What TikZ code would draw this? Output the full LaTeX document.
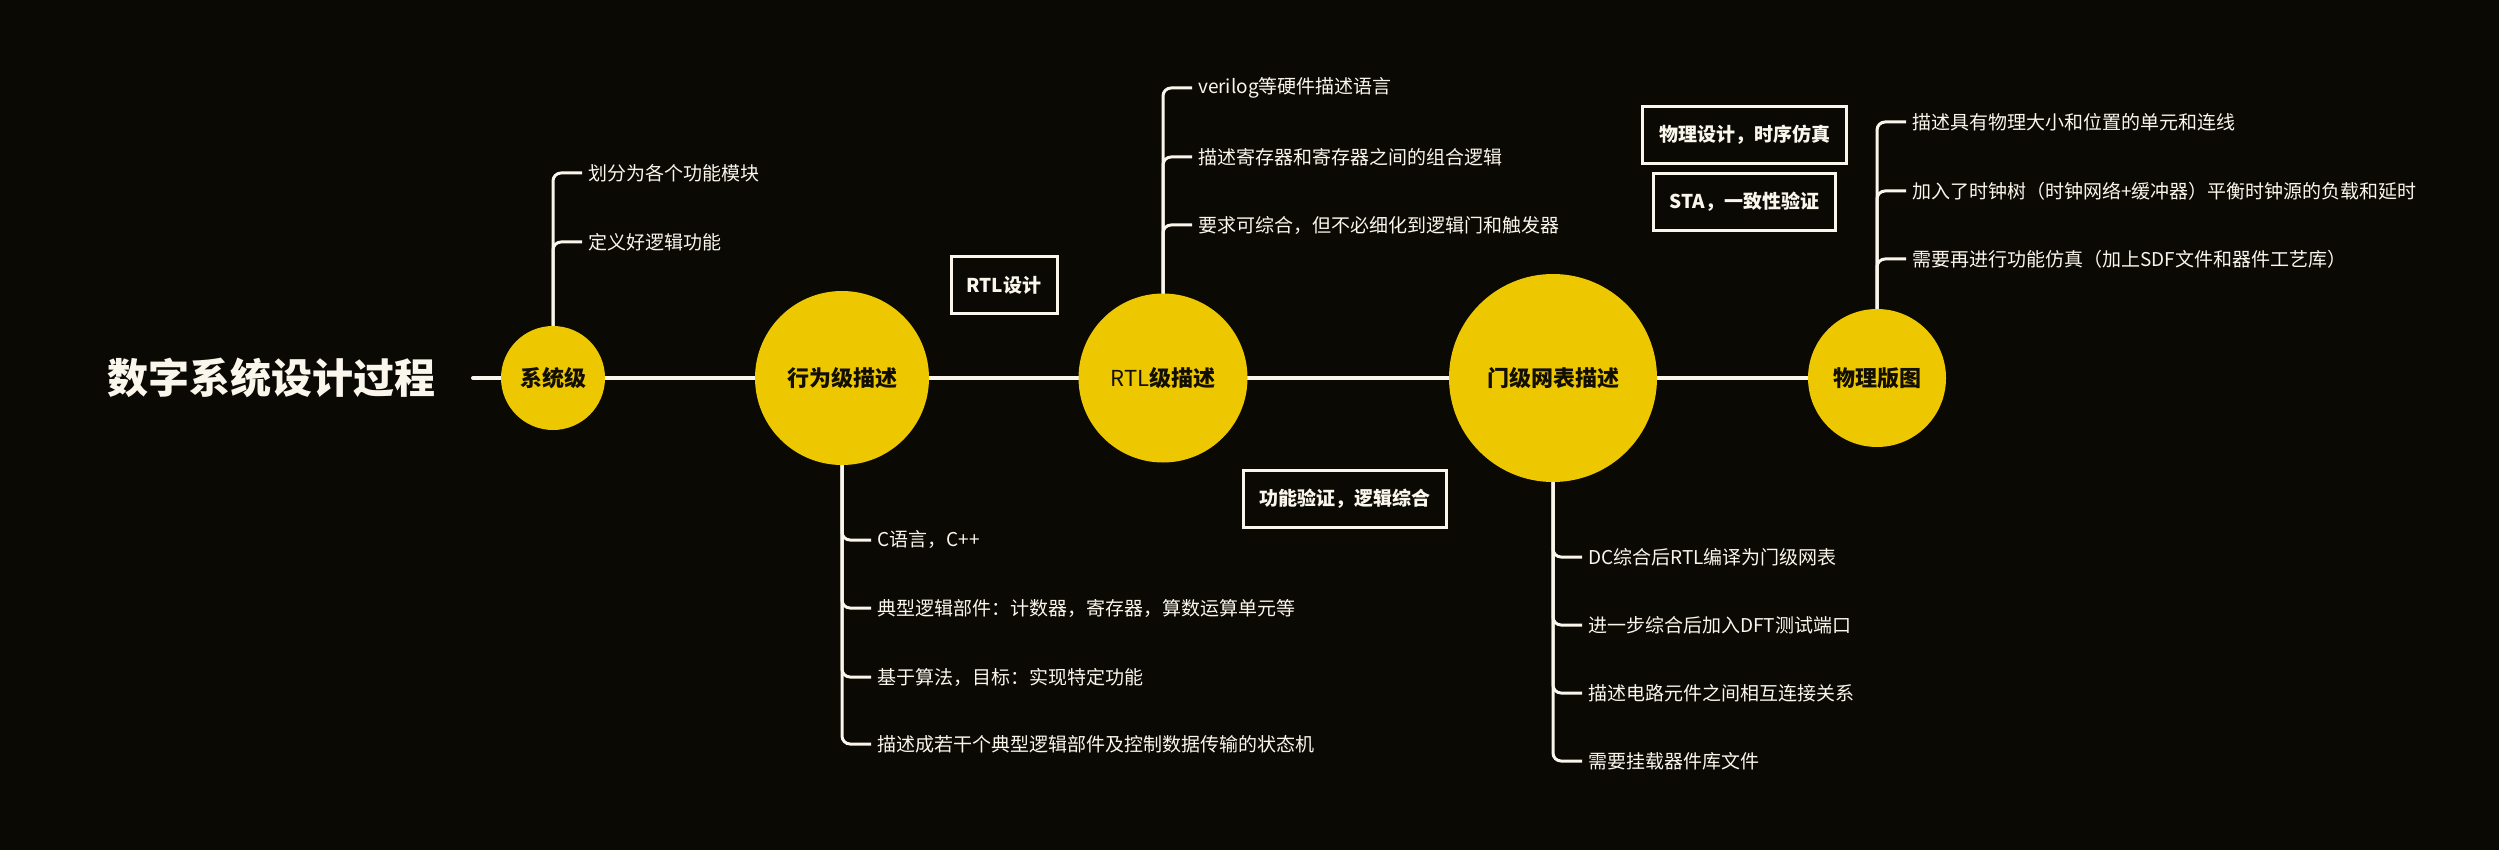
\documentclass[tikz,border=0pt]{standalone}
\usepackage{fontspec}
\setmainfont{Noto Sans CJK SC}
\usetikzlibrary{backgrounds}
\definecolor{bg}{RGB}{11,9,4}
\definecolor{gold}{RGB}{237,200,0}
\definecolor{cream}{RGB}{250,246,236}
\definecolor{ink}{RGB}{18,14,2}
\tikzset{
  circ/.style={circle, fill=gold, inner sep=0pt, text=ink,
    font=\fontsize{22}{22}\selectfont\bfseries},
  item/.style={anchor=west, inner sep=0pt, text=cream,
    font=\fontsize{19}{19}\selectfont},
  lbox/.style={draw=cream, line width=3pt, text=cream, minimum height=57pt,
    inner sep=0pt, font=\fontsize{19}{19}\selectfont\bfseries},
  mainline/.style={draw=cream, line width=4pt, line cap=round},
  branch/.style={draw=cream, line width=3pt, rounded corners=8pt},
  ttl/.style={text=cream, inner sep=0pt, font=\fontsize{41}{41}\selectfont\bfseries}
}
\begin{document}
\begin{tikzpicture}[x=1pt,y=-1pt]
\useasboundingbox (0,0) rectangle (2499,850);
% title
\node[ttl] (title) at (271,378) {数字系统设计过程};
% stage circles
\node[circ, minimum size=104pt] (sys) at (553,378) {系统级};
\node[circ, minimum size=174pt] (beh) at (842,378) {行为级描述};
\node[circ, minimum size=169pt] (rtl) at (1163,378) {{\mdseries RTL}级描述};
\node[circ, minimum size=208pt] (gate) at (1553,378) {门级网表描述};
\node[circ, minimum size=138pt] (phys) at (1877,378) {物理版图};
\coordinate (start) at (473,378);
% boxes
\node[lbox, minimum width=106pt] (b1) at (1004,285) {RTL设计};
\node[lbox, minimum width=203pt] (b2) at (1345,499) {功能验证，逻辑综合};
\node[lbox, minimum width=204pt] (b3) at (1744.5,135) {物理设计，时序仿真};
\node[lbox, minimum width=182pt] (b4) at (1744.5,202) {STA，一致性验证};
% system items
\node[item] (s1) at (588,173) {划分为各个功能模块};
\node[item] (s2) at (588,242) {定义好逻辑功能};
% behavioral items
\node[item] (h1) at (877,540) {C语言，C++};
\node[item] (h2) at (877,608) {典型逻辑部件：计数器，寄存器，算数运算单元等};
\node[item] (h3) at (877,677) {基于算法，目标：实现特定功能};
\node[item] (h4) at (877,744) {描述成若干个典型逻辑部件及控制数据传输的状态机};
% RTL items
\node[item] (r1) at (1198,88) {verilog等硬件描述语言};
\node[item] (r2) at (1198,157) {描述寄存器和寄存器之间的组合逻辑};
\node[item] (r3) at (1198,225) {要求可综合，但不必细化到逻辑门和触发器};
% gate items
\node[item] (g1) at (1588,557) {DC综合后RTL编译为门级网表};
\node[item] (g2) at (1588,625) {进一步综合后加入DFT测试端口};
\node[item] (g3) at (1588,693) {描述电路元件之间相互连接关系};
\node[item] (g4) at (1588,761) {需要挂载器件库文件};
% physical items
\node[item] (p1) at (1912,122) {描述具有物理大小和位置的单元和连线};
\node[item] (p2) at (1912,191) {加入了时钟树（时钟网络+缓冲器）平衡时钟源的负载和延时};
\node[item] (p3) at (1912,259) {需要再进行功能仿真（加上SDF文件和器件工艺库）};
\begin{scope}[on background layer]
\fill[bg] (0,0) rectangle (2499,850);
\draw[mainline] (start) -- (sys.center) -- (beh.center) -- (rtl.center) -- (gate.center) -- (phys.center);
\foreach \n in {s1,s2} \draw[branch] (sys.center) |- ([xshift=-6pt]\n.west);
\foreach \n in {h1,h2,h3,h4} \draw[branch] (beh.center) |- ([xshift=-6pt]\n.west);
\foreach \n in {r1,r2,r3} \draw[branch] (rtl.center) |- ([xshift=-6pt]\n.west);
\foreach \n in {g1,g2,g3,g4} \draw[branch] (gate.center) |- ([xshift=-6pt]\n.west);
\foreach \n in {p1,p2,p3} \draw[branch] (phys.center) |- ([xshift=-6pt]\n.west);
\end{scope}
\end{tikzpicture}
\end{document}
